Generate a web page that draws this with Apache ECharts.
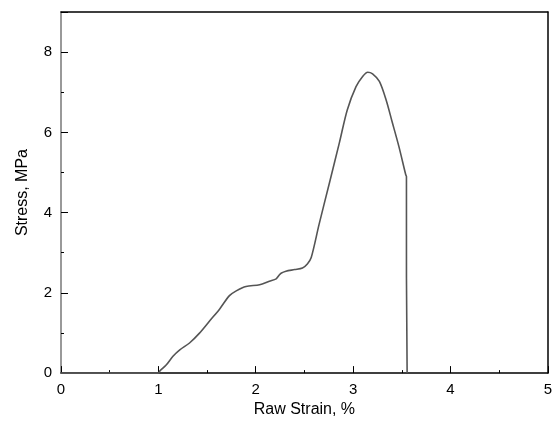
<!DOCTYPE html>
<html><head><meta charset="utf-8">
<script src="https://cdn.jsdelivr.net/npm/echarts@6/dist/echarts.min.js"></script>
<style>html,body{margin:0;padding:0;background:#fff}#c{width:555px;height:423px}</style>
</head><body><div id="c"></div>
<script>
const strain = [0, 0.5, 1.0, 1.014, 1.08, 1.15, 1.22, 1.32, 1.42, 1.53, 1.63, 1.73, 1.80, 1.90, 2.04, 2.14, 2.21, 2.24, 2.26, 2.31, 2.40, 2.48, 2.53, 2.57, 2.65, 2.76, 2.86, 2.94, 3.03, 3.10, 3.15, 3.20, 3.27, 3.34, 3.40, 3.47, 3.54, 3.548, 3.548, 3.555, 3.555];
const stress = [0, 0, 0, 0.05, 0.2, 0.42, 0.58, 0.75, 0.99, 1.31, 1.6, 1.93, 2.05, 2.16, 2.2, 2.29, 2.35, 2.44, 2.49, 2.54, 2.58, 2.62, 2.72, 2.88, 3.7, 4.77, 5.75, 6.56, 7.14, 7.4, 7.5, 7.46, 7.27, 6.8, 6.27, 5.65, 4.95, 4.9, 2.4, 2.4, 0];
const xTitle = 'Raw Strain, %';
const yTitle = 'Stress, MPa';

const font = 'Liberation Sans, Arial, sans-serif';
const chart = echarts.init(document.getElementById('c'));
chart.setOption({
  animation: false,
  grid: {left: 61, right: 6, top: 12, bottom: 46},
  xAxis: [{
    type: 'value', min: 0, max: 5, interval: 1,
    name: xTitle, nameLocation: 'middle', nameGap: 28,
    nameTextStyle: {color: '#000', fontSize: 16, fontFamily: font},
    axisLine: {onZero: false, lineStyle: {color: '#000', width: 1.5}},
    axisTick: {inside: true, length: 7, lineStyle: {color: '#000'}},
    minorTick: {show: true, splitNumber: 2, length: 3, lineStyle: {color: '#000'}},
    axisLabel: {color: '#000', fontSize: 15, fontFamily: font, margin: 9},
    splitLine: {show: false}
  }, {
    type: 'value', min: 0, max: 5, position: 'top',
    axisLine: {show: true, onZero: false, lineStyle: {color: '#000', width: 1.5}},
    axisTick: {show: false}, axisLabel: {show: false}, splitLine: {show: false}
  }],
  yAxis: [{
    type: 'value', min: 0, max: 9, interval: 2,
    name: yTitle, nameLocation: 'middle', nameGap: 30,
    nameTextStyle: {color: '#000', fontSize: 16, fontFamily: font},
    axisLine: {show: true, onZero: false, lineStyle: {color: '#777', width: 1.5}},
    axisTick: {show: true, inside: true, length: 7, lineStyle: {color: '#000'}},
    minorTick: {show: true, splitNumber: 2, length: 3, lineStyle: {color: '#000'}},
    axisLabel: {color: '#000', fontSize: 15, fontFamily: font, margin: 9,
      showMaxLabel: false},
    splitLine: {show: false}
  }, {
    type: 'value', min: 0, max: 9, position: 'right',
    axisLine: {show: true, onZero: false, lineStyle: {color: '#000', width: 1.5}},
    axisTick: {show: false}, axisLabel: {show: false}, splitLine: {show: false}
  }],
  series: [{
    type: 'line', showSymbol: false, smooth: 0.3,
    data: strain.map((s, i) => [s, stress[i]]),
    lineStyle: {color: '#555', width: 1.6},
    z: 1
  }]
});
</script></body></html>
